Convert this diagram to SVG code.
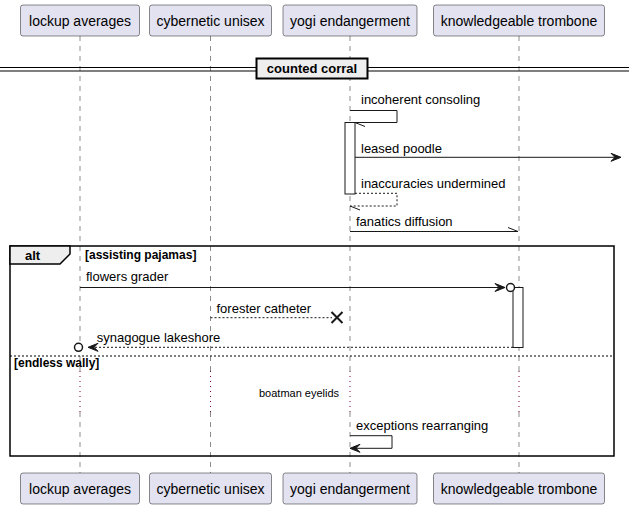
<svg xmlns="http://www.w3.org/2000/svg" width="629" height="509" viewBox="0 0 629 509">
<style>
.pbox{fill:#E2E2F0;stroke:#181818;stroke-width:0.5}
.ptxt{font-family:"Liberation Sans",Arial,sans-serif;font-size:14px;fill:#000;text-anchor:middle}
.life{stroke:#181818;stroke-width:0.5;stroke-dasharray:5,5;fill:none}
.delay{stroke:#800040;stroke-width:1;stroke-dasharray:1,4;fill:none}
.msg{font-family:"Liberation Sans",Arial,sans-serif;font-size:13px;fill:#000}
.small{font-family:"Liberation Sans",Arial,sans-serif;font-size:11px;fill:#000}
.bold11{font-family:"Liberation Sans",Arial,sans-serif;font-size:12px;font-weight:bold;fill:#000}
.bold13{font-family:"Liberation Sans",Arial,sans-serif;font-size:13px;font-weight:bold;fill:#000}
.line{stroke:#181818;stroke-width:1;fill:none}
.dash{stroke:#181818;stroke-width:1;stroke-dasharray:2,2;fill:none}
.head{fill:#181818;stroke:#181818;stroke-width:1}
.act{fill:#FFFFFF;stroke:#181818;stroke-width:1}
.circ{fill:#FFFFFF;stroke:#181818;stroke-width:1.5}
</style>

<g id="lifelines">
<path class="life" d="M80,36 V371 M80,412 V473"/>
<path class="life" d="M210.5,36 V371 M210.5,412 V473"/>
<path class="life" d="M350,36 V371 M350,412 V473"/>
<path class="life" d="M519,36 V371 M519,412 V473"/>
<path class="delay" d="M80,371 V412 M210.5,371 V412 M350,371 V412 M519,371 V412"/>
</g>

<g id="divider">
<line x1="0" y1="67.5" x2="629" y2="67.5" stroke="#000" stroke-width="1"/>
<line x1="0" y1="71" x2="629" y2="71" stroke="#000" stroke-width="1"/>
<rect x="256.5" y="58.5" width="111" height="20" fill="#EEEEEE" stroke="#000" stroke-width="2"/>
<text class="bold13" x="312" y="73" text-anchor="middle">counted corral</text>
</g>

<g id="activations">
<rect class="act" x="345" y="122.5" width="10" height="71.5"/>
<rect class="act" x="513" y="287.5" width="10" height="60"/>
</g>

<g id="alt-frame">
<rect x="10" y="246" width="604" height="210" fill="none" stroke="#000" stroke-width="1.5"/>
<path d="M10,246 H70 V254 L60,264 H10 Z" fill="#EEEEEE" stroke="#000" stroke-width="1.5"/>
<text class="bold13" x="25" y="260">alt</text>
<text class="bold11" x="85" y="259">[assisting pajamas]</text>
<line x1="10" y1="356" x2="614" y2="356" stroke="#000" stroke-width="1" stroke-dasharray="2,2"/>
<text class="bold11" x="14" y="367">[endless wally]</text>
</g>

<g id="connectors">
<path class="line" d="M350,110.5 H397 V122.5 H355"/>
<line class="line" x1="355" y1="122.5" x2="365" y2="126.5"/>
<text class="msg" x="361" y="104">incoherent consoling</text>
<line class="line" x1="355" y1="157.3" x2="619" y2="157.3"/>
<polygon class="head" points="611,153.3 621,157.3 611,161.3 615,157.3"/>
<text class="msg" x="361" y="153">leased poodle</text>
<path class="dash" d="M355,193.3 H397 V206 H350"/>
<line class="line" x1="350" y1="206" x2="360" y2="210"/>
<text class="msg" x="361" y="188">inaccuracies undermined</text>
<line class="line" x1="350" y1="231.5" x2="518" y2="231.5"/>
<line class="line" x1="518" y1="231.5" x2="508" y2="227.5"/>
<text class="msg" x="356" y="226">fanatics diffusion</text>
<line class="line" x1="80" y1="287.5" x2="503" y2="287.5"/>
<polygon class="head" points="495,283.5 505,287.5 495,291.5 499,287.5"/>
<circle class="circ" cx="510.5" cy="287.5" r="4"/>
<text class="msg" x="86" y="281">flowers grader</text>
<line class="dash" x1="210.5" y1="317.7" x2="332" y2="317.7"/>
<path d="M331.5,312 L342.5,323 M331.5,323 L342.5,312" stroke="#181818" stroke-width="2" fill="none"/>
<text class="msg" x="216.5" y="313">forester catheter</text>
<line class="dash" x1="513" y1="347.3" x2="90" y2="347.3"/>
<polygon class="head" points="98,343.3 88,347.3 98,351.3 94,347.3"/>
<circle class="circ" cx="78.5" cy="347.3" r="4"/>
<text class="msg" x="96.7" y="342">synagogue lakeshore</text>
<text class="small" x="259" y="397">boatman eyelids</text>
<path class="line" d="M350,435.7 H392 V448.3 H352"/>
<polygon class="head" points="360,444.3 350,448.3 360,452.3 356,448.3"/>
<text class="msg" x="356" y="430">exceptions rearranging</text>
</g>

<g id="p-lockup-averages">
<rect class="pbox" x="20.5" y="5" width="119" height="31" rx="2.5"/>
<text class="ptxt" x="80" y="25.5">lockup averages</text>
<rect class="pbox" x="20.5" y="473" width="119" height="31" rx="2.5"/>
<text class="ptxt" x="80" y="493.5">lockup averages</text>
</g>
<g id="p-cybernetic-unisex">
<rect class="pbox" x="149.5" y="5" width="122" height="31" rx="2.5"/>
<text class="ptxt" x="210.5" y="25.5">cybernetic unisex</text>
<rect class="pbox" x="149.5" y="473" width="122" height="31" rx="2.5"/>
<text class="ptxt" x="210.5" y="493.5">cybernetic unisex</text>
</g>
<g id="p-yogi-endangerment">
<rect class="pbox" x="283" y="5" width="134" height="31" rx="2.5"/>
<text class="ptxt" x="350" y="25.5">yogi endangerment</text>
<rect class="pbox" x="283" y="473" width="134" height="31" rx="2.5"/>
<text class="ptxt" x="350" y="493.5">yogi endangerment</text>
</g>
<g id="p-knowledgeable-trombone">
<rect class="pbox" x="433.5" y="5" width="171" height="31" rx="2.5"/>
<text class="ptxt" x="519" y="25.5">knowledgeable trombone</text>
<rect class="pbox" x="433.5" y="473" width="171" height="31" rx="2.5"/>
<text class="ptxt" x="519" y="493.5">knowledgeable trombone</text>
</g>
</svg>
